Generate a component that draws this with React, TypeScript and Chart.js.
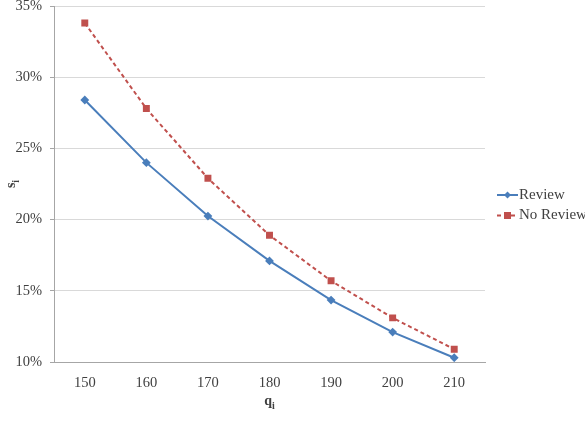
import React, { useEffect, useRef } from "react";
import { Chart, registerables } from "chart.js";

Chart.register(...registerables);

const categories = ["150", "160", "170", "180", "190", "200", "210"];
const reviewValues = [0.284, 0.240, 0.2025, 0.171, 0.1435, 0.121, 0.103];
const noReviewValues = [0.338, 0.278, 0.229, 0.189, 0.157, 0.131, 0.109];
const seriesNames = ["Review", "No Review"];
const yTickMin = 0.1;
const yTickMax = 0.35;
const yTickStep = 0.05;

const FONT = "'Liberation Serif', 'Times New Roman', serif";

const customPlugin = {
  id: "customDecor",
  afterDraw(chart: any) {
    const ctx = chart.ctx;
    const area = chart.chartArea;
    ctx.save();
    // Legend
    const items = chart.data.datasets;
    items.forEach((ds: any, i: number) => {
      const y = 195 + i * 20.5;
      const x0 = 497;
      const x1 = 518;
      ctx.strokeStyle = ds.borderColor;
      ctx.lineWidth = 2;
      ctx.setLineDash(ds.borderDash || []);
      ctx.beginPath();
      ctx.moveTo(x0, y);
      ctx.lineTo(x1, y);
      ctx.stroke();
      ctx.setLineDash([]);
      ctx.fillStyle = ds.pointBackgroundColor;
      const mx = (x0 + x1) / 2;
      if (ds.pointStyle === "rect") {
        ctx.fillRect(mx - 3.5, y - 3.5, 7, 7);
      } else {
        ctx.beginPath();
        ctx.moveTo(mx, y - 3.5);
        ctx.lineTo(mx + 3.5, y);
        ctx.lineTo(mx, y + 3.5);
        ctx.lineTo(mx - 3.5, y);
        ctx.closePath();
        ctx.fill();
      }
      ctx.fillStyle = "#404040";
      ctx.font = `15px ${FONT}`;
      ctx.textAlign = "left";
      ctx.textBaseline = "middle";
      ctx.fillText(ds.label, 519, y);
    });
    // X axis title q_i
    ctx.fillStyle = "#404040";
    ctx.textBaseline = "alphabetic";
    ctx.font = `bold 14px ${FONT}`;
    const qw = ctx.measureText("q").width;
    ctx.font = `bold 10px ${FONT}`;
    const iw = ctx.measureText("i").width;
    const cx = (area.left + area.right) / 2;
    let sx = cx - (qw + iw) / 2;
    ctx.font = `bold 14px ${FONT}`;
    ctx.fillText("q", sx, 405);
    ctx.font = `bold 10px ${FONT}`;
    ctx.fillText("i", sx + qw, 409);
    // Y axis title s_i
    ctx.translate(15, (area.top + area.bottom) / 2);
    ctx.rotate(-Math.PI / 2);
    ctx.font = `bold 14px ${FONT}`;
    const sw = ctx.measureText("s").width;
    sx = -(sw + iw) / 2;
    ctx.fillText("s", sx, 0);
    ctx.font = `bold 10px ${FONT}`;
    ctx.fillText("i", sx + sw, 4);
    ctx.restore();
  },
};

export default function App() {
  const ref = useRef<HTMLCanvasElement>(null);
  useEffect(() => {
    document.body.style.margin = "0";
    const chart = new Chart(ref.current!, {
      type: "line",
      data: {
        labels: categories,
        datasets: [
          {
            label: seriesNames[0],
            data: reviewValues,
            borderColor: "#4a7ebb",
            backgroundColor: "#4a7ebb",
            pointBackgroundColor: "#4a7ebb",
            pointBorderColor: "#4a7ebb",
            pointStyle: "rectRot",
            pointRadius: 3,
            borderWidth: 2,
            tension: 0,
          },
          {
            label: seriesNames[1],
            data: noReviewValues,
            borderColor: "#c0504d",
            backgroundColor: "#c0504d",
            pointBackgroundColor: "#c0504d",
            pointBorderColor: "#c0504d",
            pointStyle: "rect",
            pointRadius: 3.5,
            borderWidth: 2,
            borderDash: [4, 3],
            tension: 0,
          },
        ],
      },
      options: {
        animation: false,
        responsive: false,
        layout: { padding: { top: 5, right: 100, left: 0, bottom: 0 } },
        plugins: {
          legend: { display: false },
          tooltip: { enabled: false },
        },
        scales: {
          x: {
            offset: true,
            grid: { display: false, drawTicks: false },
            border: { color: "#a6a6a6", width: 1 },
            ticks: {
              color: "#404040",
              font: { family: FONT, size: 14.5 },
              padding: 12,
            },
            afterFit(scale: any) {
              scale.height = 65;
              scale.paddingLeft = 0;
              scale.paddingRight = 0;
            },
          },
          y: {
            min: yTickMin,
            max: yTickMax,
            grid: { color: "#d9d9d9", tickLength: 4, tickColor: "#a6a6a6" },
            border: { color: "#a6a6a6", width: 1 },
            ticks: {
              stepSize: yTickStep,
              color: "#404040",
              font: { family: FONT, size: 14.5 },
              padding: 8,
              callback: (v: any) => `${Math.round(Number(v) * 100)}%`,
            },
            afterFit(scale: any) {
              scale.width = 54;
              scale.paddingTop = 0;
              scale.paddingBottom = 0;
            },
          },
        },
      },
      plugins: [customPlugin],
    });
    return () => chart.destroy();
  }, []);
  return (
    <div style={{ width: 585, height: 427, position: "relative" }}>
      <canvas ref={ref} width={585} height={427} style={{ display: "block" }} />
    </div>
  );
}
